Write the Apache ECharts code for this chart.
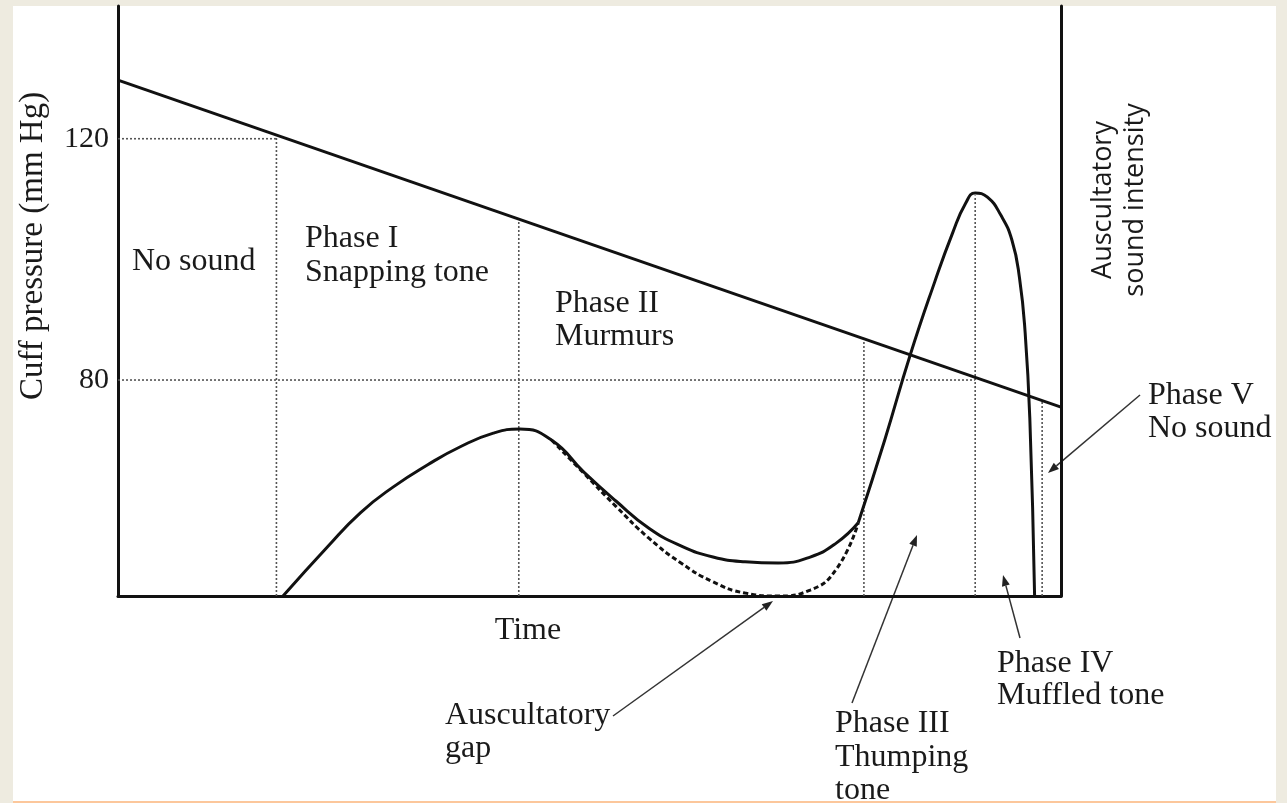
<!DOCTYPE html>
<html>
<head>
<meta charset="utf-8">
<script src="https://cdn.jsdelivr.net/npm/echarts@6/dist/echarts.min.js"></script>
<style>
  html, body { margin: 0; padding: 0; background: #eeebe0; overflow: hidden; }
  #frame { position: absolute; left: 13px; top: 6px; width: 1263px; height: 795px; background: #fff; border-bottom: 2px solid #fcc79b; }
  #chart { position: absolute; left: 0; top: 0; width: 1287px; height: 803px; }
</style>
</head>
<body>
<div id="frame"></div>
<div id="chart"></div>
<script>
// cuff pressure falls in a straight line over time (mm Hg)
const cuffTime = [0, 100];
const cuffPressure = [129.7, 75.5];
const pressureTicks = [80, 120];

// sound intensity, phase I-II (solid) up to the start of phase III
const soundTimeA = [17.5, 22.2, 25.7, 29.2, 32.8, 36.3, 39.8, 42.6, 46.0, 49.4, 52.8, 56.3, 59.7, 63.1, 66.5, 70.0, 73.4, 76.2, 78.5];
const soundLevelA = [0, 8.3, 14.1, 18.5, 22.2, 25.3, 27.6, 28.3, 26.4, 21.0, 16.1, 11.5, 8.5, 6.6, 5.8, 5.6, 6.6, 9.0, 12.4];
// phase III-IV: sharp rise, peak, drop to silence
const soundTimeB = [78.5, 81.3, 84.0, 86.6, 88.5, 89.9, 90.9, 92.2, 93.6, 94.8, 95.6, 96.2, 96.7, 97.2];
const soundLevelB = [12.4, 26.4, 40.8, 53.2, 61.5, 66.6, 68.3, 67.6, 64.6, 60.3, 53.9, 44.6, 29.8, 0];
// auscultatory gap (dashed)
const gapTime = [46.0, 49.4, 52.8, 56.3, 59.7, 63.1, 66.5, 70.0, 73.4, 76.2, 78.5];
const gapLevel = [26.4, 20.8, 15.2, 9.8, 5.6, 2.4, 0.5, 0, 1.0, 4.6, 12.4];

// dotted phase boundaries and reference pressures
const guideTime = [16.8, 42.5, 79.1, 90.9, 98.0];
const guideTop = [120.5, 106.5, 86.4, 110.6, 76.6];
const refPressure = [120, 80];
const refEnd = [16.8, 90.9];

const P_MIN = 44.2, P_MAX = 142;
const serif = "'Liberation Serif', 'DejaVu Serif', serif";
const ink = '#1a1a1a';

const zip = (xs, ys) => xs.map((x, i) => [x, ys[i]]);

const notes = [
  ['No sound', 132, 262],
  ['Phase I', 305, 239],
  ['Snapping tone', 305, 273],
  ['Phase II', 555, 304],
  ['Murmurs', 555, 337],
  ['Auscultatory', 445, 716],
  ['gap', 445, 749],
  ['Phase III', 835, 724],
  ['Thumping', 835, 758],
  ['tone', 835, 791],
  ['Phase IV', 997, 664],
  ['Muffled tone', 997, 696],
  ['Phase V', 1148, 396],
  ['No sound', 1148, 429]
];

const arrows = [
  [613, 716, 773, 601],
  [852, 703, 917, 535],
  [1020, 638, 1003, 575],
  [1140, 395, 1048, 473]
];

const textEl = (text, x, y, opts) => ({
  type: 'text', x: x, y: y, rotation: (opts && opts.rotation) || 0,
  style: {
    text: text, font: (opts && opts.font) || '32px ' + serif, fill: ink,
    textAlign: (opts && opts.align) || 'left', align: (opts && opts.align) || 'left',
    textVerticalAlign: 'middle', verticalAlign: 'middle'
  }
});

const arrowEl = ([x1, y1, x2, y2]) => {
  const a = Math.atan2(y2 - y1, x2 - x1), len = 11, hw = 4;
  const bx = x2 - len * Math.cos(a), by = y2 - len * Math.sin(a);
  return [
    { type: 'line', shape: { x1: x1, y1: y1, x2: bx, y2: by }, style: { stroke: '#333', lineWidth: 1.5 } },
    { type: 'polygon', shape: { points: [[x2, y2],
        [bx + hw * Math.sin(a), by - hw * Math.cos(a)],
        [bx - hw * Math.sin(a), by + hw * Math.cos(a)]] }, style: { fill: '#222' } }
  ];
};

const guideStyle = { color: '#555', width: 1.6, type: [2, 2] };
const guideSeries = guideTime.map((t, i) => ({
  type: 'line', yAxisIndex: 0, symbol: 'none', silent: true, z: 1,
  lineStyle: guideStyle, data: [[t, P_MIN], [t, guideTop[i]]]
})).concat(refPressure.map((p, i) => ({
  type: 'line', yAxisIndex: 0, symbol: 'none', silent: true, z: 1,
  lineStyle: guideStyle, data: [[0, p], [refEnd[i], p]]
})));

const curveStyle = { color: '#111', width: 3 };

const chart = echarts.init(document.getElementById('chart'));
chart.setOption({
  animation: false,
  grid: { left: 118, right: 226, top: 6, bottom: 207 },
  xAxis: {
    type: 'value', min: 0, max: 100,
    axisLine: { onZero: false, lineStyle: { color: '#111', width: 3 } },
    axisTick: { show: false }, axisLabel: { show: false }, splitLine: { show: false }
  },
  yAxis: [{
    type: 'value', min: P_MIN, max: P_MAX, position: 'left',
    axisLine: { show: true, onZero: false, lineStyle: { color: '#111', width: 3 } },
    axisTick: { show: false },
    axisLabel: { customValues: pressureTicks, margin: 9, fontSize: 30, fontFamily: serif, color: ink },
    splitLine: { show: false }
  }, {
    type: 'value', min: 0, max: 100, position: 'right',
    axisLine: { show: true, onZero: false, lineStyle: { color: '#111', width: 3 } },
    axisTick: { show: false }, axisLabel: { show: false }, splitLine: { show: false }
  }],
  series: guideSeries.concat([
    { name: 'Cuff pressure', type: 'line', yAxisIndex: 0, symbol: 'none', z: 3,
      lineStyle: curveStyle, data: zip(cuffTime, cuffPressure) },
    { name: 'Sound I-II', type: 'line', yAxisIndex: 1, symbol: 'none', smooth: 0.5, z: 3,
      lineStyle: curveStyle, data: zip(soundTimeA, soundLevelA) },
    { name: 'Sound III-IV', type: 'line', yAxisIndex: 1, symbol: 'none', smooth: 0.5, z: 3,
      lineStyle: curveStyle, data: zip(soundTimeB, soundLevelB) },
    { name: 'Auscultatory gap', type: 'line', yAxisIndex: 1, symbol: 'none', smooth: 0.5, z: 2,
      lineStyle: { color: '#111', width: 3, type: [5, 3] }, data: zip(gapTime, gapLevel) }
  ]),
  graphic: [].concat(
    notes.map(([t, x, y]) => textEl(t, x, y)),
    arrows.flatMap(arrowEl),
    [
      textEl('Time', 528, 631, { align: 'center' }),
      textEl('Cuff pressure (mm Hg)', 33, 246, { align: 'center', rotation: Math.PI / 2, font: '33px ' + serif }),
      textEl('Auscultatory', 1103, 200, { align: 'center', rotation: Math.PI / 2, font: "27px 'Open Sans', sans-serif" }),
      textEl('sound intensity', 1135, 200, { align: 'center', rotation: Math.PI / 2, font: "27px 'Open Sans', sans-serif" })
    ]
  )
});
</script>
</body>
</html>
